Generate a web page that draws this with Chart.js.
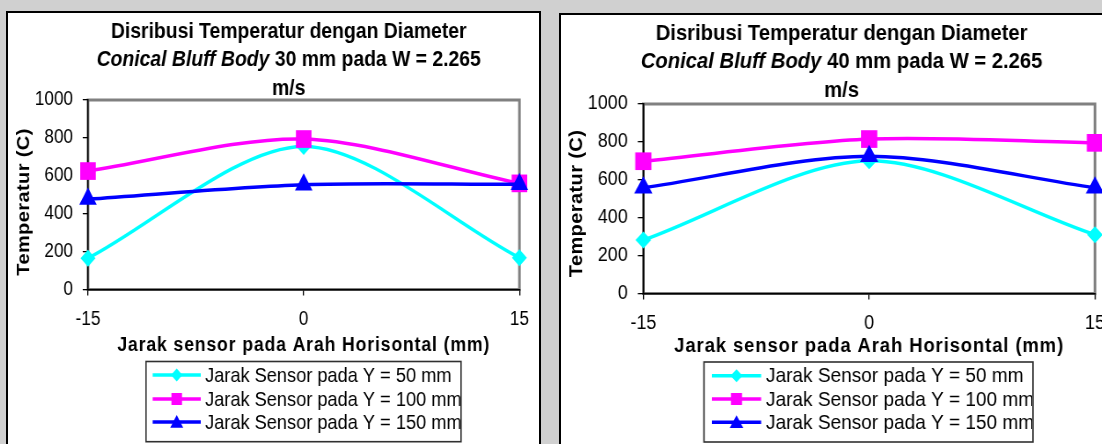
<!DOCTYPE html>
<html>
<head>
<meta charset="utf-8">
<script src="https://cdn.jsdelivr.net/npm/chart.js@4.4.1/dist/chart.umd.min.js"></script>
<style>
  html, body { margin: 0; padding: 0; }
  body {
    width: 1102px; height: 444px; overflow: hidden; position: relative;
    background: #d0d0d0;
    font-family: "Liberation Sans", Arial, sans-serif;
  }
  .frame { position: absolute; border: 2px solid #000; background: #fff; overflow: hidden; }
  .squeeze { transform-origin: 0 0; }
  canvas { display: block; }
</style>
</head>
<body>
<div class="frame" style="left:6px; top:11px; width:531px; height:440px;">
  <div class="squeeze" id="wrap30"><canvas id="chart30"></canvas></div>
</div>
<div class="frame" style="left:559px; top:13px; width:560px; height:440px;">
  <div class="squeeze" id="wrap40"><canvas id="chart40"></canvas></div>
</div>

<script>
// Horizontal sensor positions (mm) and temperature readings (C)
const sensorX = ['-15', '0', '15'];
const yTicks = [0, 200, 400, 600, 800, 1000];
const seriesLabels = [
  'Jarak Sensor pada Y = 50 mm',
  'Jarak Sensor pada Y = 100 mm',
  'Jarak Sensor pada Y = 150 mm'
];

// Bluff body 30 mm
const temp30Y50  = [165, 755, 168];
const temp30Y100 = [625, 794, 560];
const temp30Y150 = [477, 553, 555];

// Bluff body 40 mm
const temp40Y50  = [282, 700, 310];
const temp40Y100 = [698, 815, 795];
const temp40Y150 = [558, 724, 558];

const xTitle = 'Jarak sensor pada Arah Horisontal (mm)';
const yTitle = 'Temperatur (C)';
const title30 = [
  [{ text: 'Disribusi Temperatur dengan Diameter' }],
  [{ text: 'Conical Bluff Body', italic: true }, { text: ' 30 mm pada W = 2.265' }],
  [{ text: 'm/s' }]
];
const title40 = [
  [{ text: 'Disribusi Temperatur dengan Diameter' }],
  [{ text: 'Conical Bluff Body', italic: true }, { text: ' 40 mm pada W = 2.265' }],
  [{ text: 'm/s' }]
];

// Series styling (Excel-like cyan / magenta / blue with diamond, square, triangle)
const seriesStyle = [
  { color: '#00ffff', point: 'rectRot',  radius: 8.5,  legendRadius: 6.5, order: 3 },
  { color: '#ff00ff', point: 'rect',     radius: 12.5, legendRadius: 8.5, order: 2 },
  { color: '#0000ff', point: 'triangle', radius: 11.5, legendRadius: 8.5, order: 1 }
];

const FONT = "'Liberation Sans', Arial, sans-serif";
Chart.defaults.font.family = FONT;
Chart.defaults.color = '#000';

// Page layout of each chart object (canvas units before horizontal squeeze)
const layout30 = {
  sx: 0.88, width: 604, height: 440,
  plot: { l: 90.9, r: 581.5, t: 87, b: 276.5 },
  titleX: 319, titleBase: [24.5, 52.5, 81.5],
  yTitle: { x: 18.2, y: 189 }, xTitleBase: 338,
  legend: { l: 156.8, r: 514.8, t: 348.5, b: 428.7, rows: [362, 386, 409], lineL: 164.4, lineR: 219, textX: 223.9 }
};
const layout40 = {
  sx: 0.92, width: 609, height: 440,
  plot: { l: 89.5, r: 580.4, t: 89, b: 278.5 },
  titleX: 305, titleBase: [25, 53, 82],
  yTitle: { x: 17.4, y: 188.5 }, xTitleBase: 336.7,
  legend: { l: 155.4, r: 513, t: 347, b: 427, rows: [360.7, 384, 407.3], lineL: 164, lineR: 217.5, textX: 222.8 }
};

function markerPath(ctx, style, x, y, r) {
  ctx.beginPath();
  if (style === 'rectRot') {
    ctx.moveTo(x - r, y); ctx.lineTo(x, y - r); ctx.lineTo(x + r, y); ctx.lineTo(x, y + r);
  } else if (style === 'rect') {
    const h = r * Math.SQRT1_2;
    ctx.rect(x - h, y - h, 2 * h, 2 * h);
  } else {
    ctx.moveTo(x, y - r);
    ctx.lineTo(x + r * Math.sin(2 * Math.PI / 3), y - r * Math.cos(2 * Math.PI / 3));
    ctx.lineTo(x + r * Math.sin(4 * Math.PI / 3), y - r * Math.cos(4 * Math.PI / 3));
  }
  ctx.closePath();
}

function runFont(run, size) {
  return (run.italic ? 'italic ' : '') + 'bold ' + size + 'px ' + FONT;
}

// Draws the plot frame, multi-style title, axis titles and the boxed legend
function makeDecor(titleRuns, L) {
  return {
    id: 'excelDecor',
    beforeDraw(chart) {
      const { ctx, chartArea: a } = chart;
      ctx.save();
      ctx.strokeStyle = '#808080';
      ctx.lineWidth = 3;
      ctx.strokeRect(a.left, a.top, a.right - a.left, a.bottom - a.top);
      ctx.restore();
    },
    afterDraw(chart) {
      const { ctx, chartArea: a } = chart;
      ctx.save();
      ctx.fillStyle = '#000';

      // chart title
      ctx.textBaseline = 'alphabetic';
      ctx.textAlign = 'left';
      titleRuns.forEach((runs, i) => {
        let w = 0;
        runs.forEach(r => { ctx.font = runFont(r, 22); w += ctx.measureText(r.text).width; });
        let x = L.titleX - w / 2;
        runs.forEach(r => {
          ctx.font = runFont(r, 22);
          ctx.fillText(r.text, x, L.titleBase[i]);
          x += ctx.measureText(r.text).width;
        });
      });

      // y axis title
      ctx.save();
      ctx.translate(L.yTitle.x, L.yTitle.y);
      ctx.rotate(-Math.PI / 2);
      ctx.font = 'bold 20px ' + FONT;
      if ('letterSpacing' in ctx) ctx.letterSpacing = '0.4px';
      ctx.textAlign = 'center';
      ctx.textBaseline = 'middle';
      ctx.fillText(yTitle, 0, 0);
      ctx.restore();

      // x axis title
      ctx.save();
      ctx.font = 'bold 20px ' + FONT;
      if ('letterSpacing' in ctx) ctx.letterSpacing = '1px';
      ctx.textAlign = 'center';
      ctx.textBaseline = 'alphabetic';
      ctx.fillText(xTitle, (a.left + a.right) / 2, L.xTitleBase);
      ctx.restore();

      // legend box
      const g = L.legend;
      ctx.save();
      ctx.fillStyle = '#fff';
      ctx.fillRect(g.l, g.t, g.r - g.l, g.b - g.t);
      ctx.strokeStyle = '#303030';
      ctx.lineWidth = 1.6;
      ctx.strokeRect(g.l, g.t, g.r - g.l, g.b - g.t);
      ctx.beginPath();
      ctx.rect(g.l, g.t, g.r - g.l - 1, g.b - g.t);
      ctx.clip();
      chart.data.datasets.forEach((ds, i) => {
        const y = g.rows[i];
        const st = seriesStyle[i];
        ctx.strokeStyle = st.color;
        ctx.lineWidth = 3.5;
        ctx.beginPath();
        ctx.moveTo(g.lineL, y);
        ctx.lineTo(g.lineR, y);
        ctx.stroke();
        ctx.fillStyle = st.color;
        markerPath(ctx, st.point, (g.lineL + g.lineR) / 2, y + (st.point === 'triangle' ? 1.5 : 0), st.legendRadius);
        ctx.fill();
        ctx.fillStyle = '#000';
        ctx.font = '20.7px ' + FONT;
        ctx.textAlign = 'left';
        ctx.textBaseline = 'middle';
        ctx.fillText(ds.label, g.textX, y + 1);
      });
      ctx.restore();

      ctx.restore();
    }
  };
}

function buildChart(canvasId, wrapId, titleRuns, series, L) {
  const canvas = document.getElementById(canvasId);
  canvas.width = L.width;
  canvas.height = L.height;
  const wrap = document.getElementById(wrapId);
  wrap.style.width = L.width + 'px';
  wrap.style.transform = 'scaleX(' + L.sx + ')';

  const xAxisHeight = 60;
  const datasets = series.map((values, i) => ({
    label: seriesLabels[i],
    data: values,
    borderColor: seriesStyle[i].color,
    backgroundColor: seriesStyle[i].color,
    borderWidth: 3.5,
    pointStyle: seriesStyle[i].point,
    pointRadius: seriesStyle[i].radius,
    pointHoverRadius: seriesStyle[i].radius,
    pointBorderWidth: 0,
    pointBackgroundColor: seriesStyle[i].color,
    tension: 0.3,
    fill: false,
    clip: false,
    order: seriesStyle[i].order
  }));

  return new Chart(canvas, {
    type: 'line',
    data: { labels: sensorX, datasets },
    options: {
      responsive: false,
      animation: false,
      devicePixelRatio: 1,
      layout: {
        padding: {
          left: 0,
          top: L.plot.t,
          right: L.width - L.plot.r,
          bottom: L.height - L.plot.b - xAxisHeight
        }
      },
      plugins: { legend: { display: false }, title: { display: false }, tooltip: { enabled: false } },
      scales: {
        x: {
          type: 'category',
          offset: false,
          grid: { display: true, drawOnChartArea: false, drawTicks: true, tickLength: 6, color: '#000', lineWidth: 1.3 },
          border: { display: true, color: '#000', width: 1.5 },
          ticks: { font: { size: 19.5 }, color: '#000', padding: 12, maxRotation: 0, autoSkip: false },
          afterFit(scale) { scale.height = xAxisHeight; }
        },
        y: {
          min: 0, max: 1000,
          afterBuildTicks(scale) { scale.ticks = yTicks.map(v => ({ value: v })); },
          grid: { display: true, drawOnChartArea: false, drawTicks: true, tickLength: 6, color: '#000', lineWidth: 1.3 },
          border: { display: true, color: '#000', width: 1.5 },
          ticks: { font: { size: 19.5 }, color: '#000', padding: 11, callback: v => String(v) },
          afterFit(scale) { scale.width = L.plot.l; }
        }
      }
    },
    plugins: [makeDecor(titleRuns, L)]
  });
}

buildChart('chart30', 'wrap30', title30, [temp30Y50, temp30Y100, temp30Y150], layout30);
buildChart('chart40', 'wrap40', title40, [temp40Y50, temp40Y100, temp40Y150], layout40);
</script>
</body>
</html>
